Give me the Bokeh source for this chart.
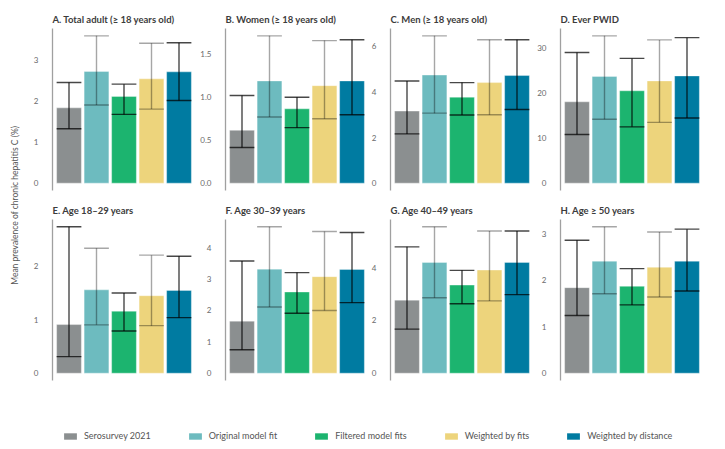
from bokeh.plotting import figure
from bokeh.layouts import row, column
from bokeh.models import Range1d, FixedTicker, NumeralTickFormatter, Legend, LegendItem, ColumnDataSource
from bokeh.embed import file_html
from bokeh.resources import INLINE
from bokeh.core.properties import value

FONT = "Lato"

series = ["Serosurvey 2021", "Original model fit", "Filtered model fits",
          "Weighted by fits", "Weighted by distance"]
colors = ["#8b8f90", "#6dbbbf", "#1cb46f", "#edd47c", "#007ba1"]
err_alpha = [0.72, 0.35, 0.72, 0.35, 0.72]

# Panel A
title_A = "A. Total adult (\u2265 18 years old)"
mean_A = [1.84, 2.73, 2.12, 2.55, 2.72]
low_A = [1.33, 1.91, 1.68, 1.81, 2.02]
high_A = [2.46, 3.60, 2.42, 3.42, 3.43]
ticks_A = [0, 1, 2, 3]

# Panel B
title_B = "B.  Women (\u2265 18 years old)"
mean_B = [0.615, 1.19, 0.865, 1.135, 1.19]
low_B = [0.415, 0.77, 0.646, 0.75, 0.796]
high_B = [1.02, 1.715, 1.00, 1.66, 1.67]
ticks_B = [0.0, 0.5, 1.0, 1.5]

# Panel C
title_C = "C. Men (\u2265 18 years old)"
mean_C = [3.16, 4.74, 3.77, 4.41, 4.72]
low_C = [2.16, 3.07, 2.99, 3.00, 3.23]
high_C = [4.48, 6.46, 4.41, 6.29, 6.29]
ticks_C = [0, 2, 4, 6]

# Panel D
title_D = "D. Ever PWID"
mean_D = [18.05, 23.7, 20.5, 22.7, 23.8]
low_D = [10.8, 14.2, 12.5, 13.5, 14.45]
high_D = [29.0, 32.7, 27.7, 31.8, 32.3]
ticks_D = [0, 10, 20, 30]

# Panel E
title_E = "E. Age 18\u201329 years"
mean_E = [0.91, 1.56, 1.16, 1.45, 1.55]
low_E = [0.31, 0.905, 0.79, 0.89, 1.04]
high_E = [2.74, 2.34, 1.50, 2.21, 2.19]
ticks_E = [0, 1, 2]

# Panel F
title_F = "F. Age 30\u201339 years"
mean_F = [1.66, 3.32, 2.59, 3.08, 3.31]
low_F = [0.75, 2.11, 1.91, 2.00, 2.25]
high_F = [3.58, 4.67, 3.21, 4.52, 4.49]
ticks_F = [0, 1, 2, 3, 4]

# Panel G
title_G = "G. Age 40\u201349 years"
mean_G = [2.77, 4.20, 3.34, 3.91, 4.20]
low_G = [1.67, 2.86, 2.63, 2.74, 2.98]
high_G = [4.79, 5.55, 3.90, 5.39, 5.39]
ticks_G = [0, 2, 4]

# Panel H
title_H = "H. Age \u2265 50 years"
mean_H = [1.84, 2.41, 1.87, 2.28, 2.41]
low_H = [1.24, 1.71, 1.47, 1.64, 1.77]
high_H = [2.86, 3.15, 2.25, 3.04, 3.10]
ticks_H = [0, 1, 2, 3]

y_label = "Mean prevalence of chronic hepatitis C (%)"

BAR_W = 0.9


def panel(title, mean, low, high, ticks, fmt, border_left, top_border, frame_h):
    ymax = max(high)
    p = figure(frame_width=143, frame_height=frame_h,
               x_range=Range1d(0.4, 5.6),
               y_range=Range1d(-0.05 * ymax, 1.05 * ymax),
               output_backend="svg", toolbar_location=None,
               min_border_left=border_left, min_border_right=0,
               min_border_top=top_border, min_border_bottom=8)
    xs = list(range(1, len(mean) + 1))
    src = ColumnDataSource(dict(
        x=xs, top=mean, low=low, high=high, color=colors,
        x0=[x - BAR_W / 2 for x in xs], x1=[x + BAR_W / 2 for x in xs],
        ea=err_alpha))
    p.vbar(x="x", top="top", bottom=0, width=BAR_W, fill_color="color",
           line_color="white", line_alpha=0.35, line_width=1, source=src)
    p.segment(x0="x", y0="low", x1="x", y1="high", line_color="black",
              line_alpha="ea", line_width=1.4, source=src)
    p.segment(x0="x0", y0="high", x1="x1", y1="high", line_color="black",
              line_alpha="ea", line_width=1.4, source=src)
    p.segment(x0="x0", y0="low", x1="x1", y1="low", line_color="black",
              line_alpha="ea", line_width=1.4, source=src)
    p.xaxis.visible = False
    p.xgrid.visible = False
    p.ygrid.visible = False
    p.outline_line_color = None
    ax = p.yaxis[0]
    ax.ticker = FixedTicker(ticks=ticks)
    ax.formatter = NumeralTickFormatter(format=fmt)
    ax.major_tick_line_color = None
    ax.minor_tick_line_color = None
    ax.axis_line_color = "#a0a0a0"
    ax.axis_line_width = 1.3
    ax.major_label_text_font = FONT
    ax.major_label_text_font_size = "8px"
    ax.major_label_text_color = "#6a6a6a"
    ax.major_label_standoff = 8
    p.title.text = title
    p.title.text_font = FONT
    p.title.text_font_size = "9.5px"
    p.title.text_font_style = "bold"
    p.title.text_color = "#3c3c3c"
    p.title.align = "left"
    p.title.standoff = 7
    return p


borders = [22, 30, 19, 27]
top_specs = [
    (title_A, mean_A, low_A, high_A, ticks_A, "0"),
    (title_B, mean_B, low_B, high_B, ticks_B, "0.0"),
    (title_C, mean_C, low_C, high_C, ticks_C, "0"),
    (title_D, mean_D, low_D, high_D, ticks_D, "0"),
]
bot_specs = [
    (title_E, mean_E, low_E, high_E, ticks_E, "0"),
    (title_F, mean_F, low_F, high_F, ticks_F, "0"),
    (title_G, mean_G, low_G, high_G, ticks_G, "0"),
    (title_H, mean_H, low_H, high_H, ticks_H, "0"),
]
top_row = row([panel(*s, border_left=b, top_border=28, frame_h=162)
               for s, b in zip(top_specs, borders)], spacing=0)
bot_row = row([panel(*s, border_left=b, top_border=21, frame_h=161)
               for s, b in zip(bot_specs, borders)], spacing=0)

# y-axis label figure
lab = figure(width=30, height=388, x_range=Range1d(0, 1), y_range=Range1d(0, 1),
             output_backend="svg", toolbar_location=None, min_border=0)
lab.axis.visible = False
lab.grid.visible = False
lab.outline_line_color = None
lab.text(x=[0.47], y=[0.472], text=[y_label], angle=1.5707963, text_align="center",
         text_baseline="middle", text_font=value(FONT), text_font_size="8.5px",
         text_color="#555555")

# legend figure
leg = figure(width=700, height=53, x_range=Range1d(0, 1), y_range=Range1d(0, 1),
             output_backend="svg", toolbar_location=None, min_border=0)
leg.axis.visible = False
leg.grid.visible = False
leg.outline_line_color = None
items = []
for name, c in zip(series, colors):
    r = leg.vbar(x=[0], top=[0], bottom=[0], width=0, fill_color=c, line_color=None)
    items.append(LegendItem(label=name, renderers=[r]))
legend = Legend(items=items, orientation="horizontal", location=(62, 0),
                spacing=36, glyph_width=16, glyph_height=8, label_standoff=6,
                padding=0, margin=0, border_line_color=None,
                background_fill_alpha=0, label_text_font=FONT,
                label_text_font_size="9px", label_text_color="#555555",
                label_height=10)
leg.add_layout(legend)

layout = column(row(lab, column(top_row, bot_row, spacing=0), spacing=0),
                leg, spacing=0)

open("out.html", "w").write(file_html(layout, INLINE))
